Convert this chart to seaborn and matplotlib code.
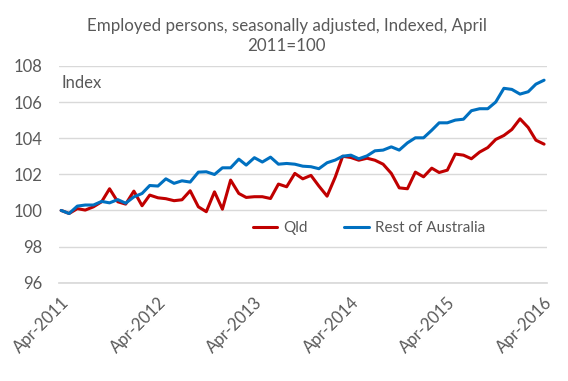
import pandas as pd
import numpy as np
import matplotlib
matplotlib.use("Agg")
import matplotlib.pyplot as plt
import seaborn as sns

# monthly index values, Apr-2011 .. Apr-2016
months = pd.date_range("2011-04-01", periods=61, freq="MS")
qld = [100.0, 99.83, 100.1, 100.02, 100.2, 100.48, 101.2, 100.48, 100.35, 101.07,
       100.26, 100.85, 100.7, 100.65, 100.54, 100.59, 101.09, 100.2, 99.93, 101.03,
       100.07, 101.68, 100.94, 100.72, 100.76, 100.76, 100.66, 101.46, 101.31, 102.05,
       101.75, 101.94, 101.35, 100.79, 101.85, 103.0, 102.93, 102.78, 102.89, 102.78,
       102.56, 102.05, 101.25, 101.2, 102.12, 101.86, 102.34, 102.1, 102.23, 103.12,
       103.06, 102.86, 103.23, 103.48, 103.93, 104.15, 104.48, 105.07, 104.59, 103.89, 103.67]
rest_of_aus = [100.0, 99.83, 100.24, 100.3, 100.3, 100.5, 100.42, 100.6, 100.4, 100.75,
               100.94, 101.38, 101.35, 101.75, 101.5, 101.64, 101.57, 102.12, 102.14, 101.99,
               102.36, 102.36, 102.84, 102.51, 102.92, 102.68, 102.95, 102.56, 102.6, 102.56,
               102.45, 102.42, 102.31, 102.64, 102.79, 103.0, 103.06, 102.86, 103.02, 103.3,
               103.34, 103.52, 103.34, 103.74, 104.02, 104.02, 104.44, 104.85, 104.85, 105.0,
               105.05, 105.52, 105.63, 105.63, 106.0, 106.76, 106.7, 106.44, 106.57, 106.99, 107.21]
series_names = ["Qld", "Rest of Australia"]
y_ticks = [96, 98, 100, 102, 104, 106, 108]
x_tick_labels = ["Apr-2011", "Apr-2012", "Apr-2013", "Apr-2014", "Apr-2015", "Apr-2016"]

df = pd.DataFrame({"Month": list(months) * 2,
                   "Value": qld + rest_of_aus,
                   "Series": [series_names[0]] * 61 + [series_names[1]] * 61})

sns.set_theme(style="white")
plt.rcParams["font.family"] = ["Lato", "DejaVu Sans"]
txt = "#595959"
grid = "#d9d9d9"

fig = plt.figure(figsize=(5.68, 3.81), dpi=100)
ax = fig.add_axes([0.104, 0.258, 0.859, 0.569])

sns.lineplot(data=df, x="Month", y="Value", hue="Series",
             palette={"Qld": "#C00000", "Rest of Australia": "#0070C0"},
             linewidth=2.2, ax=ax)

ax.set_ylim(96, 108)
ax.set_yticks(y_ticks)
ax.set_xlim(months[0] - pd.Timedelta(days=8), months[-1] + pd.Timedelta(days=11))
ax.set_xticks(months[::12])
ax.set_xticklabels(x_tick_labels, rotation=45, ha="right", rotation_mode="anchor")
ax.grid(axis="y", color=grid, linewidth=1)
ax.set_axisbelow(True)
for s in ["top", "right", "left"]:
    ax.spines[s].set_visible(False)
ax.spines["bottom"].set_color(grid)
ax.tick_params(axis="x", colors=grid, length=4.5, width=1, labelcolor=txt,
               labelsize=12, pad=4)
ax.tick_params(axis="y", length=0, labelcolor=txt, labelsize=12, pad=12)
ax.set_xlabel("")
ax.set_ylabel("")

ax.text(0.006, 0.92, "Index", transform=ax.transAxes, color=txt,
        fontsize=12, va="center", ha="left")

ax.legend(loc="center", bbox_to_anchor=(0.635, 0.252), ncol=2, frameon=False,
          fontsize=11, handlelength=1.6, columnspacing=2.4, labelcolor=txt,
          handletextpad=0.4)

fig.text(0.505, 0.905, "Employed persons, seasonally adjusted, Indexed, April\n2011=100",
         ha="center", va="center", fontsize=12.2, color=txt, linespacing=1.3)

fig.savefig("out.png", dpi=100)
